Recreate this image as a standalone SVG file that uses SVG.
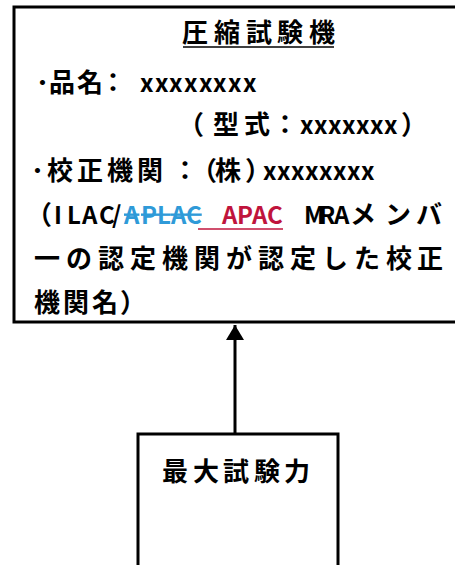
<svg xmlns="http://www.w3.org/2000/svg" width="455" height="565" viewBox="0 0 455 565">
<style>
.box{fill:#fff;stroke:#000;stroke-width:3}
.t{font-family:"Noto Sans CJK JP","Noto Sans",sans-serif;font-size:26px;font-weight:bold;fill:#000}
.l{font-size:24px}
.blue{fill:#2f9ad8}
.red{fill:#c0143c}
.edge{stroke:#000;stroke-width:3;fill:none}
</style>
<defs>
<marker id="arr" markerWidth="6" markerHeight="6" refX="5" refY="3" orient="auto" markerUnits="strokeWidth">
<path d="M0,0 L5,3 L0,6 z" fill="#000"/>
</marker>
</defs>
<g id="node-machine">
<rect class="box" x="14" y="7" width="460" height="315"/>
<text class="t" x="182 214 246 277 309" y="42">圧縮試験機</text>
<line x1="183" y1="47" x2="334" y2="47" stroke="#000" stroke-width="1.5"/>
<text class="t" y="92"><tspan x="36">･</tspan><tspan x="49 77 100">品名：</tspan><tspan class="l" x="140 155 169 184 199 213 228 243">xxxxxxxx</tspan></text>
<text class="t" y="134"><tspan x="178 213 244 272">（型式：</tspan><tspan class="l" x="300 314 328 342 356 370 384">xxxxxxx</tspan><tspan x="401">）</tspan></text>
<text class="t" y="180"><tspan x="31">･</tspan><tspan x="47 77 107 137 172 191 215 245">校正機関：（株）</tspan><tspan class="l" x="263 277 291 305 319 333 347 361">xxxxxxxx</tspan></text>
<text class="t" y="224"><tspan x="26">（</tspan><tspan class="l" x="54 67 82 99 112">ILAC/</tspan><tspan class="l blue" x="124 141 157 171 186" text-decoration="line-through">APLAC</tspan><tspan class="l red" x="222 237 252 267">APAC</tspan><tspan class="l" x="304 319 334">MRA</tspan><tspan x="350 385 416">メンバ</tspan></text>
<line x1="198" y1="229" x2="283" y2="229" stroke="#c0143c" stroke-width="1.5"/>
<text class="t" y="268" x="34 66 98 130 162 194 226 258 290 322 354 386 417">一の認定機関が認定した校正</text>
<text class="t" y="312" x="34 63 92 120">機関名）</text>
</g>
<g id="node-force">
<rect class="box" x="138" y="434" width="200" height="150"/>
<text class="t" x="162 193 223 254 284" y="481">最大試験力</text>
</g>
<g id="connectors">
<line class="edge" x1="235" y1="434" x2="235" y2="325" marker-end="url(#arr)"/>
</g>
</svg>
